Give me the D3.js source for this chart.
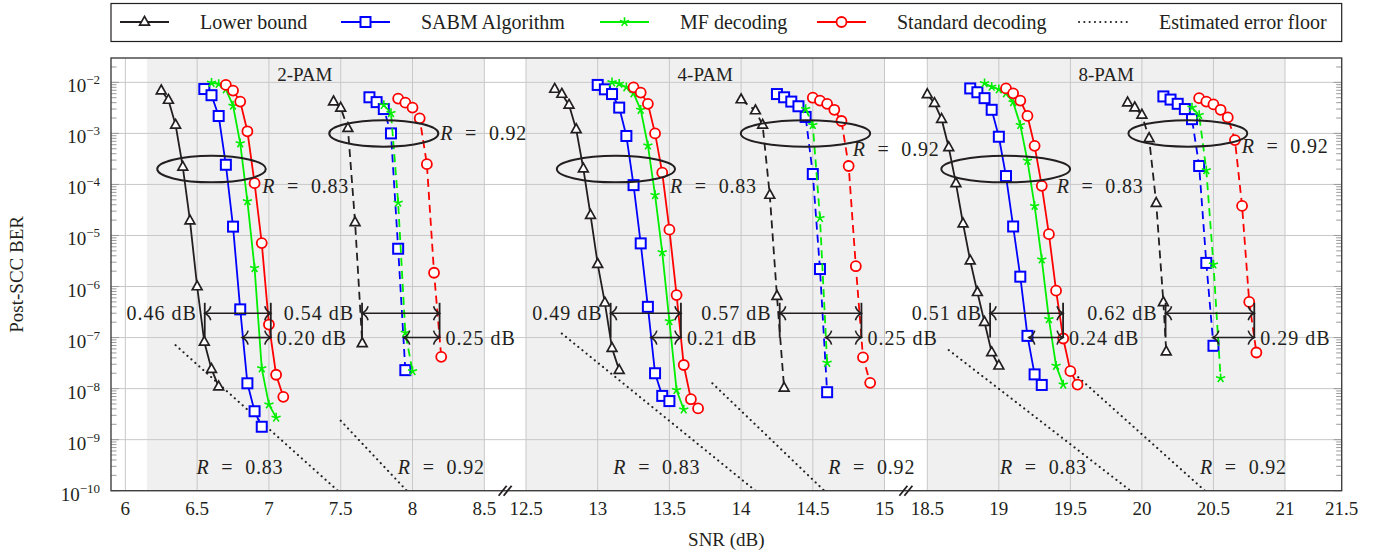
<!DOCTYPE html>
<html>
<head>
<meta charset="utf-8">
<script src="https://cdn.jsdelivr.net/npm/d3@7"></script>
<style>
  body { margin: 0; background: #fff; }
  svg { display: block; }
  text { font-family: "Liberation Serif", "Times New Roman", serif; fill: #231f20; }
</style>
</head>
<body>
<svg id="chart" width="1390" height="557"></svg>
<script>
// ---------- axis ticks and labels ----------
const snrTicks = [6, 6.5, 7, 7.5, 8, 8.5, 12.5, 13, 13.5, 14, 14.5, 15, 18.5, 19, 19.5, 20, 20.5, 21];
const snrEndTick = 21.5;
const berDecades = [-10, -9, -8, -7, -6, -5, -4, -3, -2];
const panelNames = ["2-PAM", "4-PAM", "8-PAM"];
const panelCenters = [7.25, 13.75, 19.75];
const shadedRanges = [[6.15, 8.5], [12.5, 15], [18.5, 21]];
const seriesNames = ["Lower bound", "SABM Algorithm", "MF decoding", "Standard decoding"];
const floorName = "Estimated error floor";

// ---------- 2-PAM, R = 0.83 ----------
const bound2_083 = [[6.25,6.9e-3],[6.30,4.5e-3],[6.35,1.46e-3],[6.40,2.2e-4],[6.45,1.95e-5],[6.50,1.0e-6],[6.55,8.2e-8],[6.60,2.4e-8],[6.65,1.09e-8]];
const sabm2_083  = [[6.55,7.4e-3],[6.60,5.6e-3],[6.65,2.19e-3],[6.70,2.43e-4],[6.75,1.49e-5],[6.80,3.57e-7],[6.85,1.27e-8],[6.90,3.6e-9],[6.95,1.79e-9]];
const mf2_083    = [[6.60,9.8e-3],[6.65,9.3e-3],[6.70,7.3e-3],[6.75,3.5e-3],[6.80,6.4e-4],[6.85,4.7e-5],[6.90,2.3e-6],[6.95,2.5e-8],[7.00,4.9e-9],[7.05,2.7e-9]];
const std2_083   = [[6.70,8.9e-3],[6.75,6.9e-3],[6.80,4.2e-3],[6.85,1.1e-3],[6.90,1.06e-4],[6.95,7.1e-6],[7.00,1.8e-7],[7.05,1.87e-8],[7.10,6.9e-9]];
// ---------- 2-PAM, R = 0.92 ----------
const bound2_092 = [[7.45,4.2e-3],[7.50,3.15e-3],[7.55,1.26e-3],[7.60,1.8e-5],[7.65,7.7e-8]];
const sabm2_092  = [[7.70,5.1e-3],[7.75,4.1e-3],[7.80,3.0e-3],[7.85,1.0e-3],[7.90,5.5e-6],[7.95,2.3e-8]];
const mf2_092    = [[7.80,3.6e-3],[7.85,2.5e-3],[7.90,4.4e-5],[7.95,1.24e-7],[8.00,2.2e-8]];
const std2_092   = [[7.90,4.8e-3],[7.95,4.0e-3],[8.00,3.2e-3],[8.05,1.97e-3],[8.10,2.5e-4],[8.15,1.86e-6],[8.20,4.2e-8]];
// ---------- 4-PAM, R = 0.83 ----------
const bound4_083 = [[12.70,7.4e-3],[12.75,5.9e-3],[12.80,3.6e-3],[12.85,1.2e-3],[12.90,2.03e-4],[12.95,2.5e-5],[13.00,2.75e-6],[13.05,4.8e-7],[13.10,6.2e-8],[13.15,2.3e-8]];
const sabm4_083  = [[13.00,8.9e-3],[13.05,7.3e-3],[13.10,5.9e-3],[13.15,3.2e-3],[13.20,8.9e-4],[13.25,9.7e-5],[13.30,7.0e-6],[13.35,4.0e-7],[13.40,2.0e-8],[13.45,7.2e-9],[13.50,5.7e-9]];
const mf4_083    = [[13.10,1.0e-2],[13.15,9.4e-3],[13.20,8.0e-3],[13.25,6.1e-3],[13.30,2.9e-3],[13.35,5.8e-4],[13.40,6.2e-5],[13.45,4.7e-6],[13.50,2.1e-7],[13.55,9.4e-9],[13.60,3.9e-9]];
const std4_083   = [[13.25,8.0e-3],[13.30,6.3e-3],[13.35,3.8e-3],[13.40,1.0e-3],[13.45,1.7e-4],[13.50,1.3e-5],[13.55,6.8e-7],[13.60,2.9e-8],[13.65,6.2e-9],[13.70,4.1e-9]];
// ---------- 4-PAM, R = 0.92 ----------
const bound4_092 = [[14.00,4.6e-3],[14.10,2.8e-3],[14.15,1.46e-3],[14.20,6.2e-5],[14.25,6.5e-7],[14.30,1.03e-8]];
const sabm4_092  = [[14.25,5.9e-3],[14.30,5.1e-3],[14.35,4.2e-3],[14.40,3.4e-3],[14.45,2.1e-3],[14.50,1.6e-4],[14.55,2.2e-6],[14.60,8.5e-9]];
const mf4_092    = [[14.45,3.0e-3],[14.50,1.46e-3],[14.55,2.2e-5],[14.60,3.2e-8]];
const std4_092   = [[14.50,5.0e-3],[14.55,4.4e-3],[14.60,3.8e-3],[14.65,2.9e-3],[14.70,1.75e-3],[14.75,2.3e-4],[14.80,2.5e-6],[14.85,4.1e-8],[14.90,1.3e-8]];
// ---------- 8-PAM, R = 0.83 ----------
const bound8_083 = [[18.50,5.8e-3],[18.55,3.9e-3],[18.60,1.9e-3],[18.65,5.3e-4],[18.70,1.05e-4],[18.75,1.7e-5],[18.80,3.2e-6],[18.85,7.7e-7],[18.90,2.0e-7],[18.95,5.1e-8],[19.00,2.8e-8]];
const sabm8_083  = [[18.80,7.6e-3],[18.85,6.4e-3],[18.90,4.9e-3],[18.95,2.9e-3],[19.00,8.6e-4],[19.05,1.46e-4],[19.10,1.5e-5],[19.15,1.56e-6],[19.20,1.08e-7],[19.25,1.9e-8],[19.30,1.18e-8]];
const mf8_083    = [[18.90,9.6e-3],[18.95,8.2e-3],[19.00,7.3e-3],[19.05,6.1e-3],[19.10,4.1e-3],[19.15,1.46e-3],[19.20,2.9e-4],[19.25,3.8e-5],[19.30,3.4e-6],[19.35,2.3e-7],[19.40,2.8e-8],[19.45,1.2e-8]];
const std8_083   = [[19.05,7.6e-3],[19.10,6.1e-3],[19.15,4.4e-3],[19.20,2.2e-3],[19.25,5.7e-4],[19.30,9.4e-5],[19.35,1.06e-5],[19.40,8.3e-7],[19.45,9.6e-8],[19.50,2.2e-8],[19.55,1.2e-8]];
// ---------- 8-PAM, R = 0.92 ----------
const bound8_092 = [[19.90,4.0e-3],[19.95,3.2e-3],[20.00,2.3e-3],[20.05,8.0e-4],[20.10,4.3e-5],[20.15,4.9e-7],[20.17,5.3e-8]];
const sabm8_092  = [[20.15,5.3e-3],[20.20,4.6e-3],[20.25,3.8e-3],[20.30,3.0e-3],[20.35,1.9e-3],[20.40,2.3e-4],[20.45,2.9e-6],[20.50,6.9e-8]];
const mf8_092    = [[20.35,3.2e-3],[20.40,2.3e-3],[20.45,1.9e-4],[20.50,2.7e-6],[20.55,1.6e-8]];
const std8_092   = [[20.40,4.9e-3],[20.45,4.2e-3],[20.50,3.7e-3],[20.55,2.9e-3],[20.60,2.06e-3],[20.65,7.4e-4],[20.70,3.8e-5],[20.75,5.0e-7],[20.80,5.1e-8]];

// ---------- estimated error floors (end points of straight lines) ----------
const floor2_083 = [[6.35,7.1e-8],[7.48,1e-10]];
const floor2_092 = [[7.50,2.35e-9],[7.96,1e-10]];
const floor4_083 = [[12.75,1.2e-7],[14.10,1e-10]];
const floor4_092 = [[13.80,1.27e-8],[14.58,1e-10]];
const floor8_083 = [[18.65,5.7e-8],[19.92,1e-10]];
const floor8_092 = [[19.50,2.3e-8],[20.44,1e-10]];

// ---------- SNR gaps at BER 1e-7 (to bound, to SABM) ----------
const gaps2_083 = [0.46, 0.20];
const gaps2_092 = [0.54, 0.25];
const gaps4_083 = [0.49, 0.21];
const gaps4_092 = [0.57, 0.25];
const gaps8_083 = [0.51, 0.24];
const gaps8_092 = [0.62, 0.29];

// ---------- rate groups: ellipse centre (SNR, BER) and half-axes (dB, decades) ----------
const rateLabels = ["0.83", "0.92"];
const ellipseCenters = [[6.60,2e-4],[7.80,1e-3],[13.127,2e-4],[14.449,1e-3],[19.048,2e-4],[20.321,1e-3]];
const ellipseHalfWidths = [0.378, 0.38, 0.412, 0.451, 0.45, 0.415];
const ellipseHalfHeight = 0.26;
const ellipseLabelPos = [[6.953,9.4e-5],[8.193,1e-3],[13.504,9.4e-5],[14.778,4.9e-4],[19.404,9.4e-5],[20.697,5.65e-4]];
const floorLabelPos = [[6.495,2.95e-10],[7.898,2.95e-10],[13.109,2.95e-10],[14.608,2.95e-10],[19.008,2.95e-10],[20.406,2.95e-10]];

// ---------- styles ----------
const colors = ["#231f20", "#0000ff", "#00ee00", "#ff0000"];
const markerKinds = ["triangle", "square", "star", "circle"];

const groups = [
  { curves: [bound2_083, sabm2_083, mf2_083, std2_083], floor: floor2_083, gaps: gaps2_083, rate: 0 },
  { curves: [bound2_092, sabm2_092, mf2_092, std2_092], floor: floor2_092, gaps: gaps2_092, rate: 1 },
  { curves: [bound4_083, sabm4_083, mf4_083, std4_083], floor: floor4_083, gaps: gaps4_083, rate: 0 },
  { curves: [bound4_092, sabm4_092, mf4_092, std4_092], floor: floor4_092, gaps: gaps4_092, rate: 1 },
  { curves: [bound8_083, sabm8_083, mf8_083, std8_083], floor: floor8_083, gaps: gaps8_083, rate: 0 },
  { curves: [bound8_092, sabm8_092, mf8_092, std8_092], floor: floor8_092, gaps: gaps8_092, rate: 1 }
];

// ---------- scales (broken SNR axis as a piecewise linear scale) ----------
const plot = { left: 111, right: 1341.7, top: 58, bottom: 490.7 };
const x = d3.scaleLinear()
  .domain([5.9, 8.5, 12.5, 15, 18.5, 21, 21.5])
  .range([plot.left, 484.3, 526, 884.5, 927.3, 1285, plot.right]);
const y = d3.scaleLog().domain([1e-10, 3e-2]).range([plot.bottom, plot.top]);

const svg = d3.select("#chart");
svg.append("defs").append("clipPath").attr("id", "plotClip")
  .append("rect").attr("x", plot.left).attr("y", plot.top)
  .attr("width", plot.right - plot.left).attr("height", plot.bottom - plot.top);

// background shading
const bg = svg.append("g");
bg.selectAll("rect").data(shadedRanges).join("rect")
  .attr("x", d => x(d[0])).attr("width", d => x(d[1]) - x(d[0]))
  .attr("y", plot.top).attr("height", plot.bottom - plot.top)
  .attr("fill", "#f0f0f0");

// grid lines
const grid = svg.append("g").attr("stroke", "#c8c8c8").attr("stroke-width", 1);
grid.selectAll(".vg").data(snrTicks).join("line")
  .attr("x1", d => x(d)).attr("x2", d => x(d))
  .attr("y1", plot.top).attr("y2", plot.bottom);
grid.selectAll(".hg").data(berDecades).join("line")
  .attr("x1", plot.left).attr("x2", plot.right)
  .attr("y1", d => y(Math.pow(10, d))).attr("y2", d => y(Math.pow(10, d)));

// y tick marks (inside, both sides)
const minorVals = [];
berDecades.forEach(d => { for (let k = 2; k <= 9; k++) { const v = k * Math.pow(10, d); if (v < 3e-2) minorVals.push(v); } });
const ticks = svg.append("g").attr("stroke", "#9a9a9a").attr("stroke-width", 1);
[[plot.left, 1], [plot.right, -1]].forEach(([x0, s]) => {
  ticks.append("g").selectAll("line").data(berDecades).join("line")
    .attr("x1", x0).attr("x2", x0 + s * 8)
    .attr("y1", d => y(Math.pow(10, d))).attr("y2", d => y(Math.pow(10, d)));
  ticks.append("g").selectAll("line").data(minorVals).join("line")
    .attr("x1", x0).attr("x2", x0 + s * 5.5)
    .attr("y1", d => y(d)).attr("y2", d => y(d));
});

// y tick labels 10^k
berDecades.forEach(d => {
  const t = svg.append("text").attr("x", 100).attr("y", y(Math.pow(10, d)) + 10)
    .attr("text-anchor", "end");
  t.append("tspan").attr("font-size", 19).text("10");
  t.append("tspan").attr("font-size", 13).attr("dy", -8).text("\u2212" + (-d));
});

// x tick labels
svg.append("g").selectAll("text").data(snrTicks.concat([snrEndTick])).join("text")
  .attr("x", d => x(d)).attr("y", 515).attr("text-anchor", "middle")
  .attr("font-size", 19).text(d => d);

// axis titles
svg.append("text").attr("x", (plot.left + plot.right) / 2).attr("y", 546)
  .attr("text-anchor", "middle").attr("font-size", 19).text("SNR (dB)");
svg.append("text").attr("transform", `translate(23,${(plot.top + plot.bottom) / 2}) rotate(-90)`)
  .attr("text-anchor", "middle").attr("font-size", 19).text("Post-SCC BER");

// panel titles
svg.append("g").selectAll("text").data(panelNames).join("text")
  .attr("x", (d, i) => x(panelCenters[i])).attr("y", 80.5)
  .attr("text-anchor", "middle").attr("font-size", 19).text(d => d);

// ---------- marker drawing ----------
function drawMarker(sel, kind, color) {
  if (kind === "triangle") {
    sel.append("path").attr("d", "M0,-5.6L4.9,3.2L-4.9,3.2Z")
      .attr("fill", "#fff").attr("stroke", color).attr("stroke-width", 1.7).attr("stroke-linejoin", "miter");
  } else if (kind === "square") {
    sel.append("rect").attr("x", -5).attr("y", -5).attr("width", 10).attr("height", 10)
      .attr("fill", "#fff").attr("stroke", color).attr("stroke-width", 2);
  } else if (kind === "circle") {
    sel.append("circle").attr("r", 5).attr("fill", "#fff").attr("stroke", color).attr("stroke-width", 1.8);
  } else {
    let p = "";
    for (let k = 0; k < 5; k++) {
      const a = -Math.PI / 2 + k * 2 * Math.PI / 5;
      p += `M0,0L${(4.8 * Math.cos(a)).toFixed(2)},${(4.8 * Math.sin(a)).toFixed(2)}`;
    }
    sel.append("path").attr("d", p).attr("stroke", color).attr("stroke-width", 1.6).attr("fill", "none");
  }
}

const line = d3.line().x(d => x(d[0])).y(d => y(d[1]));
const plotArea = svg.append("g").attr("clip-path", "url(#plotClip)");

// error floors
plotArea.append("g").selectAll("path").data(groups).join("path")
  .attr("d", g => line(g.floor)).attr("fill", "none")
  .attr("stroke", "#231f20").attr("stroke-width", 2.1)
  .attr("stroke-dasharray", "0.1,5.2").attr("stroke-linecap", "round");

// curves
groups.forEach(g => {
  g.curves.forEach((data, i) => {
    const cg = plotArea.append("g");
    cg.append("path").attr("d", line(data)).attr("fill", "none")
      .attr("stroke", colors[i]).attr("stroke-width", 1.8)
      .attr("stroke-dasharray", g.rate === 1 ? "8,5" : null);
    data.forEach(p => {
      const m = cg.append("g").attr("transform", `translate(${x(p[0])},${y(p[1])})`);
      drawMarker(m, markerKinds[i], colors[i]);
    });
  });
});

// rate ellipses and labels
const ann = svg.append("g");
ellipseCenters.forEach((c, i) => {
  const cx = x(c[0]), cy = y(c[1]);
  const rx = x(c[0] + ellipseHalfWidths[i]) - cx;
  const ry = y(c[1]) - y(c[1] * Math.pow(10, ellipseHalfHeight));
  ann.append("ellipse").attr("cx", cx).attr("cy", cy).attr("rx", rx).attr("ry", ry)
    .attr("fill", "none").attr("stroke", "#231f20").attr("stroke-width", 2);
});
function rateText(pos, label) {
  const t = ann.append("text").attr("x", x(pos[0])).attr("y", y(pos[1]) + 7)
    .attr("font-size", 20).attr("word-spacing", 6).attr("letter-spacing", 0.8);
  t.append("tspan").attr("font-style", "italic").text("R");
  t.append("tspan").text(" = " + label);
}
ellipseLabelPos.forEach((p, i) => rateText(p, rateLabels[groups[i].rate]));
floorLabelPos.forEach((p, i) => rateText(p, rateLabels[groups[i].rate]));

// ---------- SNR gap annotations at BER = 1e-7 ----------
function crossing(data, target) {
  for (let i = 0; i < data.length - 1; i++) {
    const a = data[i], b = data[i + 1];
    if (a[1] >= target && b[1] <= target) {
      const t = (Math.log10(a[1]) - Math.log10(target)) / (Math.log10(a[1]) - Math.log10(b[1]));
      return a[0] + t * (b[0] - a[0]);
    }
  }
  return data[data.length - 1][0];
}
function arrowTip(g, px, py, dir) {
  g.append("path")
    .attr("d", `M${px - dir * 6},${py - 7}C${px - dir * 5},${py - 3} ${px - dir * 1.5},${py - 0.8} ${px},${py}` +
               `C${px - dir * 1.5},${py + 0.8} ${px - dir * 5},${py + 3} ${px - dir * 6},${py + 7}`)
    .attr("fill", "none").attr("stroke", "#231f20").attr("stroke-width", 1.6);
}
const target = 1e-7, upperLevel = 3e-7, barTop = 4.8e-7;
const fmt = d3.format(".2f");
groups.forEach(g => {
  const xEnd = crossing(g.curves[3], target);
  const ag = svg.append("g");
  const xr = x(xEnd);
  const xl1 = x(xEnd - g.gaps[0]);
  const xl2 = x(xEnd - g.gaps[1]);
  const yU = y(upperLevel), yL = y(target);
  // bars
  [xl1, xr].forEach(px => ag.append("line").attr("x1", px).attr("x2", px)
    .attr("y1", y(barTop)).attr("y2", yL).attr("stroke", "#231f20").attr("stroke-width", 1.8));
  // arrows
  [[xl1, yU], [xl2, yL]].forEach(([px, py]) => {
    ag.append("line").attr("x1", px).attr("x2", xr).attr("y1", py).attr("y2", py)
      .attr("stroke", "#231f20").attr("stroke-width", 1.6);
    arrowTip(ag, px, py, -1);
    arrowTip(ag, xr, py, 1);
  });
  ag.append("text").attr("x", xl1 - 8).attr("y", yU + 7).attr("text-anchor", "end")
    .attr("font-size", 20).attr("letter-spacing", 1).text(fmt(g.gaps[0]) + " dB");
  ag.append("text").attr("x", xr + 6).attr("y", yL + 7)
    .attr("font-size", 20).attr("letter-spacing", 1).text(fmt(g.gaps[1]) + " dB");
});

// axis frame and break marks
svg.append("rect").attr("x", plot.left).attr("y", plot.top)
  .attr("width", plot.right - plot.left).attr("height", plot.bottom - plot.top)
  .attr("fill", "none").attr("stroke", "#404040").attr("stroke-width", 1.4);
[[8.5, 12.5], [15, 18.5]].forEach(([a, b]) => {
  const xm = (x(a) + x(b)) / 2;
  [-2.5, 2.5].forEach(o => svg.append("line")
    .attr("x1", xm + o - 4).attr("y1", plot.bottom + 5)
    .attr("x2", xm + o + 4).attr("y2", plot.bottom - 5)
    .attr("stroke", "#231f20").attr("stroke-width", 1.8));
});

// ---------- legend ----------
const legend = svg.append("g");
legend.append("rect").attr("x", plot.left).attr("y", 3.5)
  .attr("width", plot.right - plot.left).attr("height", 38)
  .attr("fill", "#fff").attr("stroke", "#231f20").attr("stroke-width", 1.2);
const legendX = [120, 341, 600, 817, 1079];
const legendY = 22;
seriesNames.forEach((name, i) => {
  const lx = legendX[i];
  legend.append("line").attr("x1", lx).attr("x2", lx + 49).attr("y1", legendY).attr("y2", legendY)
    .attr("stroke", colors[i]).attr("stroke-width", 1.8);
  const m = legend.append("g").attr("transform", `translate(${lx + 24.5},${legendY})`);
  drawMarker(m, markerKinds[i], colors[i]);
  legend.append("text").attr("x", lx + 80).attr("y", legendY + 6.5).attr("font-size", 20).text(name);
});
legend.append("line").attr("x1", legendX[4]).attr("x2", legendX[4] + 49)
  .attr("y1", legendY).attr("y2", legendY).attr("stroke", "#231f20").attr("stroke-width", 2)
  .attr("stroke-dasharray", "0.1,5.2").attr("stroke-linecap", "round");
legend.append("text").attr("x", legendX[4] + 80).attr("y", legendY + 6.5).attr("font-size", 20).text(floorName);
</script>
</body>
</html>
